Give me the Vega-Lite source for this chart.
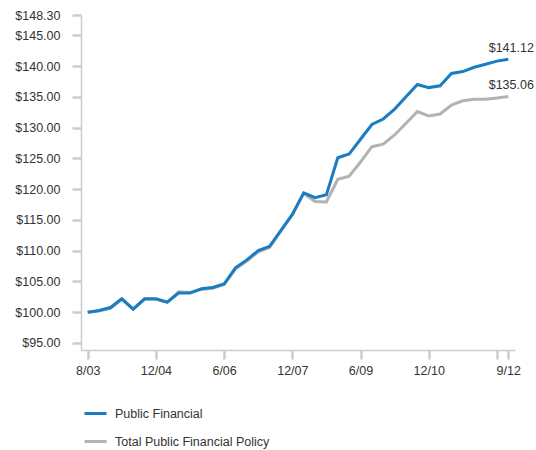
{
  "$schema": "https://vega.github.io/schema/vega-lite/v6.json",
  "width": 434,
  "height": 335,
  "autosize": "none",
  "padding": {"left": 81, "top": 15, "right": 21, "bottom": 100},
  "config": {
    "font": "Liberation Sans",
    "view": {"stroke": null},
    "axis": {"labelFont": "Liberation Sans", "labelColor": "#333333", "labelFontSize": 12.5, "domainColor": "#cccccc", "domainWidth": 1.5, "tickColor": "#cccccc", "tickWidth": 2.5, "tickSize": 9, "grid": false, "title": null}
  },
  "datasets": {
    "perf": [
      {"date": "8/03", "series": "Public Financial", "value": 100.0},
      {"date": "9/03", "series": "Public Financial", "value": 100.26},
      {"date": "12/03", "series": "Public Financial", "value": 100.75},
      {"date": "3/04", "series": "Public Financial", "value": 102.17},
      {"date": "6/04", "series": "Public Financial", "value": 100.49},
      {"date": "9/04", "series": "Public Financial", "value": 102.17},
      {"date": "12/04", "series": "Public Financial", "value": 102.17},
      {"date": "3/05", "series": "Public Financial", "value": 101.63},
      {"date": "6/05", "series": "Public Financial", "value": 103.1},
      {"date": "9/05", "series": "Public Financial", "value": 103.1},
      {"date": "12/05", "series": "Public Financial", "value": 103.8},
      {"date": "3/06", "series": "Public Financial", "value": 104.0},
      {"date": "6/06", "series": "Public Financial", "value": 104.57},
      {"date": "9/06", "series": "Public Financial", "value": 107.2},
      {"date": "12/06", "series": "Public Financial", "value": 108.5},
      {"date": "3/07", "series": "Public Financial", "value": 110.0},
      {"date": "6/07", "series": "Public Financial", "value": 110.7},
      {"date": "9/07", "series": "Public Financial", "value": 113.3},
      {"date": "12/07", "series": "Public Financial", "value": 115.9},
      {"date": "3/08", "series": "Public Financial", "value": 119.4},
      {"date": "6/08", "series": "Public Financial", "value": 118.6},
      {"date": "9/08", "series": "Public Financial", "value": 119.1},
      {"date": "12/08", "series": "Public Financial", "value": 125.1},
      {"date": "3/09", "series": "Public Financial", "value": 125.7},
      {"date": "6/09", "series": "Public Financial", "value": 128.1},
      {"date": "9/09", "series": "Public Financial", "value": 130.5},
      {"date": "12/09", "series": "Public Financial", "value": 131.4},
      {"date": "3/10", "series": "Public Financial", "value": 133.0},
      {"date": "6/10", "series": "Public Financial", "value": 135.0},
      {"date": "9/10", "series": "Public Financial", "value": 137.0},
      {"date": "12/10", "series": "Public Financial", "value": 136.5},
      {"date": "3/11", "series": "Public Financial", "value": 136.8},
      {"date": "6/11", "series": "Public Financial", "value": 138.8},
      {"date": "9/11", "series": "Public Financial", "value": 139.1},
      {"date": "12/11", "series": "Public Financial", "value": 139.8},
      {"date": "3/12", "series": "Public Financial", "value": 140.3},
      {"date": "6/12", "series": "Public Financial", "value": 140.8},
      {"date": "9/12", "series": "Public Financial", "value": 141.12},
      {"date": "8/03", "series": "Total Public Financial Policy", "value": 100.0},
      {"date": "9/03", "series": "Total Public Financial Policy", "value": 100.2},
      {"date": "12/03", "series": "Total Public Financial Policy", "value": 100.6},
      {"date": "3/04", "series": "Total Public Financial Policy", "value": 102.1},
      {"date": "6/04", "series": "Total Public Financial Policy", "value": 100.5},
      {"date": "9/04", "series": "Total Public Financial Policy", "value": 102.1},
      {"date": "12/04", "series": "Total Public Financial Policy", "value": 102.1},
      {"date": "3/05", "series": "Total Public Financial Policy", "value": 101.6},
      {"date": "6/05", "series": "Total Public Financial Policy", "value": 103.3},
      {"date": "9/05", "series": "Total Public Financial Policy", "value": 103.2},
      {"date": "12/05", "series": "Total Public Financial Policy", "value": 103.7},
      {"date": "3/06", "series": "Total Public Financial Policy", "value": 103.9},
      {"date": "6/06", "series": "Total Public Financial Policy", "value": 104.5},
      {"date": "9/06", "series": "Total Public Financial Policy", "value": 107.0},
      {"date": "12/06", "series": "Total Public Financial Policy", "value": 108.3},
      {"date": "3/07", "series": "Total Public Financial Policy", "value": 109.8},
      {"date": "6/07", "series": "Total Public Financial Policy", "value": 110.5},
      {"date": "9/07", "series": "Total Public Financial Policy", "value": 113.2},
      {"date": "12/07", "series": "Total Public Financial Policy", "value": 115.8},
      {"date": "3/08", "series": "Total Public Financial Policy", "value": 119.3},
      {"date": "6/08", "series": "Total Public Financial Policy", "value": 118.0},
      {"date": "9/08", "series": "Total Public Financial Policy", "value": 117.9},
      {"date": "12/08", "series": "Total Public Financial Policy", "value": 121.6},
      {"date": "3/09", "series": "Total Public Financial Policy", "value": 122.1},
      {"date": "6/09", "series": "Total Public Financial Policy", "value": 124.4},
      {"date": "9/09", "series": "Total Public Financial Policy", "value": 126.9},
      {"date": "12/09", "series": "Total Public Financial Policy", "value": 127.3},
      {"date": "3/10", "series": "Total Public Financial Policy", "value": 128.8},
      {"date": "6/10", "series": "Total Public Financial Policy", "value": 130.7},
      {"date": "9/10", "series": "Total Public Financial Policy", "value": 132.6},
      {"date": "12/10", "series": "Total Public Financial Policy", "value": 131.9},
      {"date": "3/11", "series": "Total Public Financial Policy", "value": 132.2},
      {"date": "6/11", "series": "Total Public Financial Policy", "value": 133.65},
      {"date": "9/11", "series": "Total Public Financial Policy", "value": 134.35},
      {"date": "12/11", "series": "Total Public Financial Policy", "value": 134.6},
      {"date": "3/12", "series": "Total Public Financial Policy", "value": 134.6},
      {"date": "6/12", "series": "Total Public Financial Policy", "value": 134.8},
      {"date": "9/12", "series": "Total Public Financial Policy", "value": 135.06}
    ]
  },
  "data": {"name": "perf"},
  "encoding": {
    "x": {
      "field": "date",
      "type": "ordinal",
      "sort": null,
      "scale": {"type": "point", "padding": 0.59},
      "axis": {
        "values": ["8/03", "12/04", "6/06", "12/07", "6/09", "12/10", "6/12", "9/12"],
        "labelExpr": "datum.value == '6/12' ? '' : datum.label",
        "labelAngle": 0,
        "labelPadding": 5,
        "labelBaseline": "top"
      }
    },
    "y": {
      "field": "value",
      "type": "quantitative",
      "scale": {"domain": [93.85, 148.3], "nice": false, "zero": false},
      "axis": {
        "values": [95, 100, 105, 110, 115, 120, 125, 130, 135, 140, 145, 148.3],
        "format": "$.2f",
        "labelPadding": 12
      }
    },
    "color": {
      "field": "series",
      "type": "nominal",
      "scale": {"domain": ["Public Financial", "Total Public Financial Policy"], "range": ["#1a7dc1", "#b3b3b3"]},
      "legend": {
        "orient": "none",
        "legendX": 2,
        "legendY": 386,
        "title": null,
        "symbolType": "stroke",
        "symbolSize": 484,
        "symbolStrokeWidth": 3,
        "labelFont": "Liberation Sans",
        "labelFontSize": 12.5,
        "labelColor": "#333333",
        "labelOffset": 7,
        "rowPadding": 9,
        "padding": 0
      }
    }
  },
  "layer": [
    {
      "transform": [{"filter": "datum.series == 'Total Public Financial Policy'"}],
      "mark": {"type": "line", "strokeWidth": 3}
    },
    {
      "transform": [{"filter": "datum.series == 'Public Financial'"}],
      "mark": {"type": "line", "strokeWidth": 3}
    },
    {
      "transform": [{"filter": "datum.date == '9/12'"}],
      "mark": {"type": "text", "baseline": "bottom", "align": "center", "dx": 3, "dy": -4, "fontSize": 12.5, "color": "#333333", "font": "Liberation Sans"},
      "encoding": {
        "text": {"field": "value", "type": "quantitative", "format": "$.2f"},
        "color": {"value": "#333333"}
      }
    }
  ]
}
